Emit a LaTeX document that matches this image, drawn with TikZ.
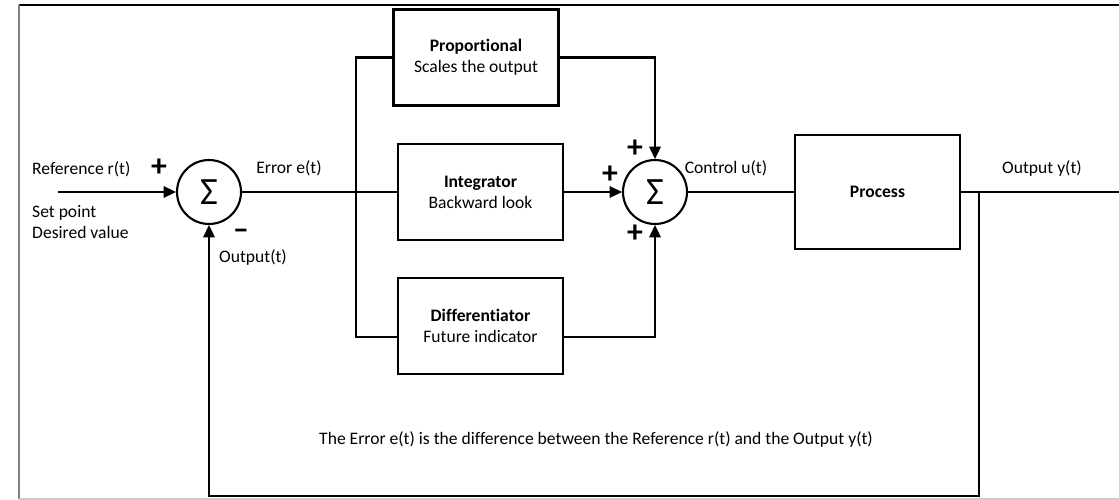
\documentclass[tikz,border=0pt]{standalone}
\usepackage{fontspec}
\setmainfont{Carlito}[Ligatures={TeX,NoCommon}]
\usetikzlibrary{arrows.meta}

\begin{document}
\begin{tikzpicture}[x=0.02cm, y=-0.02cm,
    every node/.style={font=\fontsize{10}{12}\selectfont},
    block/.style={draw, line width=1.2pt, minimum width=3.3cm, minimum height=1.92cm, align=center},
    sumnode/.style={draw, circle, line width=1.2pt, minimum size=1.28cm, inner sep=0pt, font=\fontsize{22}{22}\selectfont},
    sign/.style={inner sep=0pt, font=\fontsize{18}{18}\selectfont\bfseries},
    wire/.style={line width=1.2pt},
    arr/.style={wire, -{Triangle[length=7pt,width=6.5pt]}}]
    \useasboundingbox (0,0) rectangle (1119,500);
    % frame
    \draw[black, line width=0.6pt] (19,5) -- (1119,5);
    \draw[gray, line width=0.6pt] (19,5) -- (19,499);
    \draw[black!20, line width=0.6pt] (19,499) -- (1119,499);
    %
    \node (sum1) [sumnode] at (209,192) {Σ};
    \node (prop) [block] at (476,57.5) {\textbf{Proportional}\\Scales the output};
    \node (integ) [block] at (480.5,192) {\textbf{Integrator}\\Backward look};
    \node (diff) [block] at (480.5,326) {\textbf{Differentiator}\\Future indicator};
    \node (sum2) [sumnode] at (655,192) {Σ};
    \node (process) [block, minimum height=2.28cm] at (877.5,192) {\textbf{Process}};
    %
    \coordinate (ref) at (58,192);
    \coordinate (split) at (356,192);
    \coordinate (dlevel) at (0,337);
    \coordinate (tap) at (979,192);
    \coordinate (out) at (1119,192);
    \coordinate (fb) at (979,496);
    %
    \draw [arr] (ref) -- (sum1);
    \draw [wire] (sum1) -- (split) -- (integ);
    \draw [wire] (split) |- (prop);
    \draw [wire] (split) |- (diff.west |- dlevel);
    \draw [arr] (prop) -| (sum2);
    \draw [arr] (integ) -- (sum2);
    \draw [arr] (diff.east |- dlevel) -| (sum2);
    \draw [wire] (sum2) -- (process) -- (out);
    \draw [arr] (tap) -- (fb) -| (sum1);
    %
    \node (reflabel) [anchor=west] at (26,169) {Reference r(t)};
    \node (setlabel) [anchor=west, align=left] at (26,222) {Set point\\Desired value};
    \node (refplus) [sign] at (159,168) {+};
    \node (minus) [sign] at (241,234) {–};
    \node (fblabel) at (253,257) {Output(t)};
    \node (errlabel) at (289,168) {Error e(t)};
    \node (ctrllabel) at (726,168) {Control u(t)};
    \node (outlabel) at (1042,168) {Output y(t)};
    \node (plustop) [sign] at (635,149) {+};
    \node (plusleft) [sign] at (610,175) {+};
    \node (plusbot) [sign] at (635,234) {+};
    \node (note) at (596,439) {The Error e(t) is the difference between the Reference r(t) and the Output y(t)};
\end{tikzpicture}
\end{document}
